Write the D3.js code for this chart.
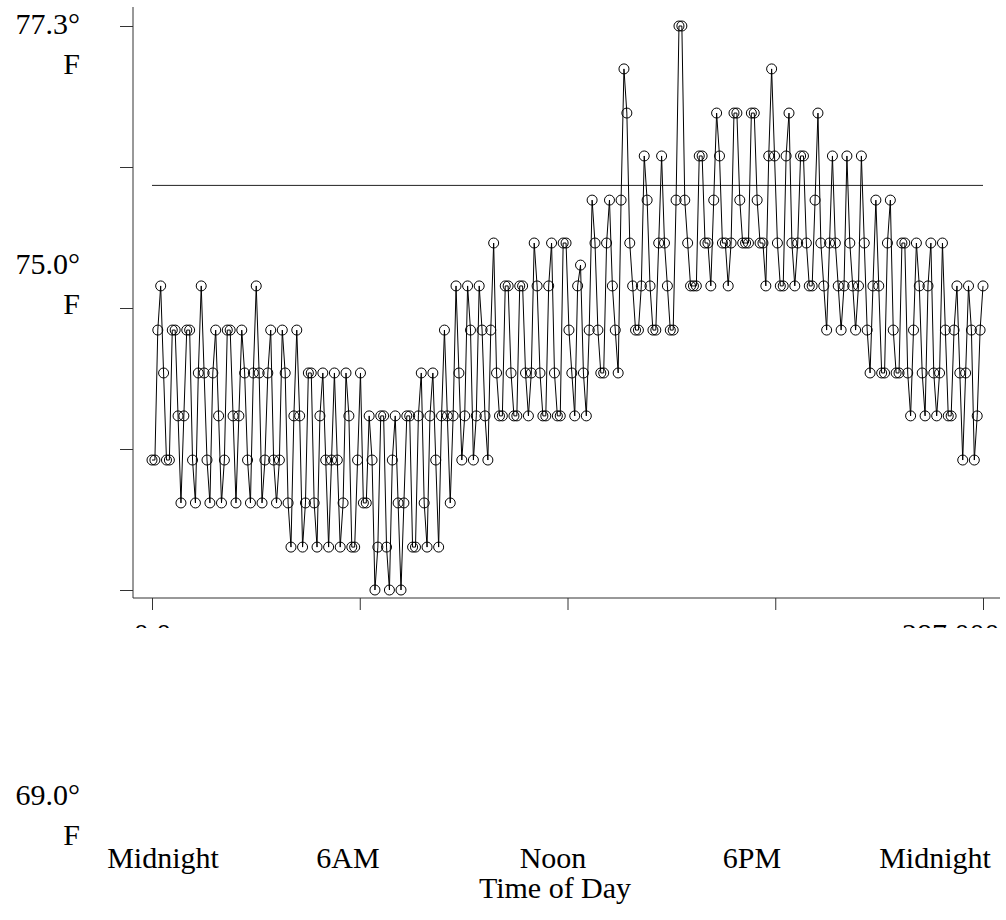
<!DOCTYPE html>
<html lang="en">
<head>
<meta charset="utf-8">
<title>Temperature by Time of Day</title>
<script src="https://d3js.org/d3.v7.min.js"></script>
<style>
  body, html { margin: 0; padding: 0; background: #fff; }
  svg { display: block; font-family: 'Liberation Serif', 'Times New Roman', serif; }
  .axis line, .axis path { stroke: #333; }
</style>
</head>
<body>
<div id="chart"></div>
<script>
// readings, one every 5 minutes across the day (degrees F)
const temps = [
  73.76,73.76,74.82,75.18,74.47,73.76,73.76,74.82,74.82,74.12,73.41,74.12,
  74.82,74.82,73.76,73.41,74.47,75.18,74.47,73.76,73.41,74.47,74.82,74.12,
  73.41,73.76,74.82,74.82,74.12,73.41,74.12,74.82,74.47,73.76,73.41,74.47,
  75.18,74.47,73.41,73.76,74.47,74.82,73.76,73.41,73.76,74.82,74.47,73.41,
  73.05,74.12,74.82,74.12,73.05,73.41,74.47,74.47,73.41,73.05,74.12,74.47,
  73.76,73.05,73.76,74.47,73.76,73.05,73.41,74.47,74.12,73.05,73.05,73.76,
  74.47,73.41,73.41,74.12,73.76,72.70,73.05,74.12,74.12,73.05,72.70,73.76,
  74.12,73.41,72.70,73.41,74.12,74.12,73.05,73.05,74.12,74.47,73.41,73.05,
  74.12,74.47,73.76,73.05,74.12,74.82,74.12,73.41,74.12,75.18,74.47,73.76,
  74.12,75.18,74.82,73.76,74.12,75.18,74.82,74.12,73.76,74.82,75.53,74.47,
  74.12,74.12,75.18,75.18,74.47,74.12,74.12,75.18,75.18,74.47,74.12,74.47,
  75.53,75.18,74.47,74.12,74.12,75.18,75.53,74.47,74.12,74.12,75.53,75.53,
  74.82,74.47,74.12,75.18,75.35,74.47,74.12,74.82,75.88,75.53,74.82,74.47,
  74.47,75.53,75.88,75.18,74.82,74.47,75.88,76.95,76.59,75.53,75.18,74.82,
  74.82,75.18,76.24,75.88,75.18,74.82,74.82,75.53,76.24,75.53,75.18,74.82,
  74.82,75.88,77.30,77.30,75.88,75.53,75.18,75.18,75.18,76.24,76.24,75.53,
  75.53,75.18,75.88,76.59,76.24,75.53,75.53,75.18,75.53,76.59,76.59,75.88,
  75.53,75.53,75.53,76.59,76.59,75.88,75.53,75.53,75.18,76.24,76.95,76.24,
  75.53,75.18,75.18,76.24,76.59,75.53,75.18,75.53,76.24,76.24,75.53,75.18,
  75.18,75.88,76.59,75.53,75.18,74.82,75.53,76.24,75.53,75.18,74.82,75.18,
  76.24,75.53,75.18,74.82,75.18,76.24,75.53,74.82,74.47,75.18,75.88,75.18,
  74.47,74.47,75.53,75.88,74.82,74.47,74.47,75.53,75.53,74.47,74.12,74.82,
  75.53,75.18,74.47,74.12,75.18,75.53,74.47,74.12,74.47,75.53,74.82,74.12,
  74.12,74.82,75.18,74.47,73.76,74.47,75.18,74.82,73.76,74.12,74.82,75.18
];
const refLine = 76.0;
const yTicks = [72.7, 73.85, 75.0, 76.15, 77.3];
const xTickLabels = ["0.0", "", "", "", "287.000"];
const yLabels = ["77.3°", "75.0°", "69.0°"];
const timeLabels = ["Midnight", "6AM", "Noon", "6PM", "Midnight"];
const xTitle = "Time of Day";

const width = 1006, height = 920;

const svg = d3.select("#chart").append("svg")
    .attr("width", width)
    .attr("height", height);

const x = d3.scaleLinear().domain([0, temps.length - 1]).range([152, 983]);
const y = d3.scaleLinear().domain([72.7, 77.3]).range([590, 26]);

// the plot itself is cut off just under the x axis
svg.append("clipPath").attr("id", "plotClip")
  .append("rect").attr("x", 0).attr("y", 0).attr("width", width).attr("height", 628);

const plot = svg.append("g").attr("clip-path", "url(#plotClip)");

// y axis
const yAxis = plot.append("g")
    .attr("class", "axis")
    .attr("transform", "translate(133,0)")
    .call(d3.axisLeft(y).tickValues(yTicks).tickSize(13).tickFormat(""));
yAxis.select(".domain").remove();
yAxis.append("line").attr("x1", 0).attr("x2", 0).attr("y1", 7).attr("y2", 598);

// x axis
const xTickVals = xTickLabels.map((d, i) => (temps.length - 1) * i / (xTickLabels.length - 1));
const xAxis = plot.append("g")
    .attr("class", "axis")
    .attr("transform", "translate(0,598)")
    .call(d3.axisBottom(x).tickValues(xTickVals).tickSize(12)
      .tickFormat((d, i) => xTickLabels[i]));
xAxis.select(".domain").remove();
xAxis.append("line").attr("x1", 133).attr("x2", 1000).attr("y1", 0).attr("y2", 0);
xAxis.selectAll(".tick text")
    .attr("font-family", "'Liberation Serif', serif")
    .attr("font-size", 30)
    .attr("fill", "#000")
    .attr("dy", "1.03em");
xAxis.selectAll(".tick").filter((d, i) => i === xTickLabels.length - 1)
    .select("text").attr("text-anchor", "end").attr("x", 16);

// reference line
plot.append("line")
    .attr("x1", x(0)).attr("x2", x(temps.length - 1))
    .attr("y1", y(refLine)).attr("y2", y(refLine))
    .attr("stroke", "#222").attr("stroke-width", 1);

// readings
plot.append("path")
    .datum(temps)
    .attr("fill", "none")
    .attr("stroke", "#000")
    .attr("stroke-width", 1)
    .attr("d", d3.line().x((d, i) => x(i)).y(d => y(d)));

plot.selectAll("circle.pt")
  .data(temps)
  .join("circle")
    .attr("class", "pt")
    .attr("cx", (d, i) => x(i))
    .attr("cy", d => y(d))
    .attr("r", 5)
    .attr("fill", "none")
    .attr("stroke", "#000")
    .attr("stroke-width", 1);

// y labels, two lines each
const yLabelTop = [34, 274, 805];
const yl = svg.append("g").attr("font-size", 30).attr("text-anchor", "end");
yLabels.forEach((t, i) => {
  yl.append("text").attr("x", 80).attr("y", yLabelTop[i]).text(t);
  yl.append("text").attr("x", 80).attr("y", yLabelTop[i] + 40).text("F");
});

// time of day labels
const timeLabelX = [163, 348, 553, 752, 935];
svg.append("g").attr("font-size", 30).attr("text-anchor", "middle")
  .selectAll("text")
  .data(timeLabels)
  .join("text")
    .attr("x", (d, i) => timeLabelX[i])
    .attr("y", 868)
    .text(d => d);

svg.append("text")
    .attr("x", 555).attr("y", 898)
    .attr("font-size", 30).attr("text-anchor", "middle")
    .text(xTitle);
</script>
</body>
</html>
